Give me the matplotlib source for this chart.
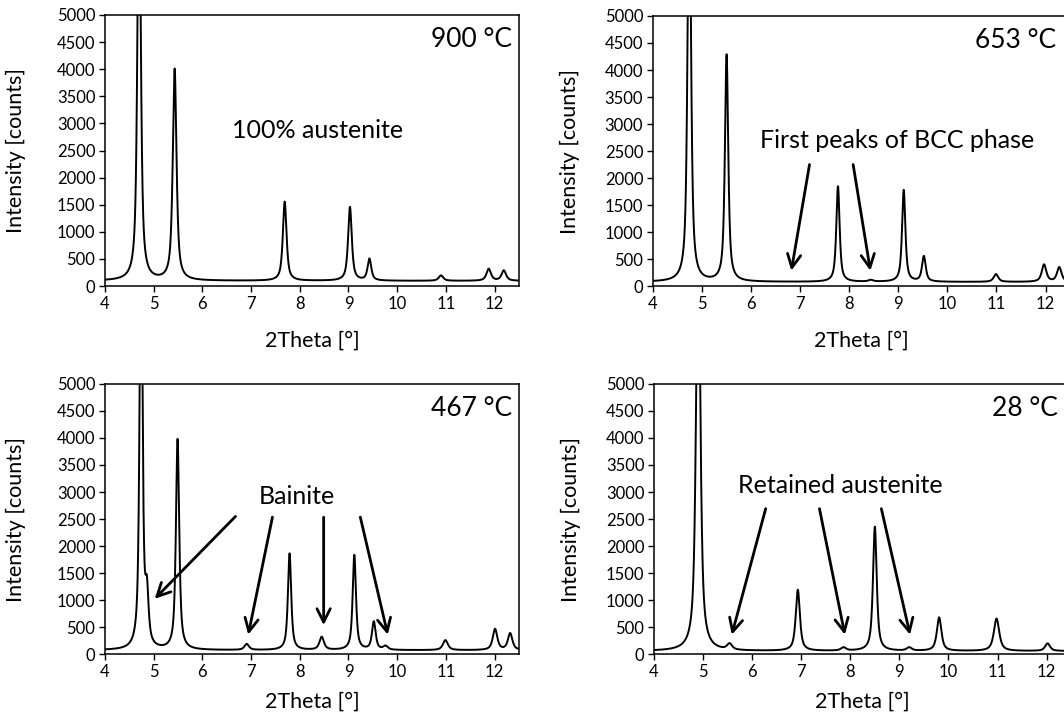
import numpy as np
import matplotlib
matplotlib.use('Agg')
import matplotlib.pyplot as plt

plt.rcParams['font.family'] = ['Lato', 'DejaVu Sans']

# peak tables: position [deg], height [counts], fwhm [deg]
pos_900 = [4.70, 5.43, 7.69, 9.03, 9.43, 10.90, 11.88, 12.19]
height_900 = [8000, 3900, 1460, 1360, 400, 100, 220, 190]
fwhm_900 = [0.08, 0.09, 0.09, 0.09, 0.09, 0.11, 0.11, 0.11]
base_900 = 95

pos_653 = [4.74, 5.50, 7.77, 8.44, 9.11, 9.52, 10.99, 11.97, 12.28]
height_653 = [8000, 4200, 1770, 30, 1700, 470, 145, 320, 270]
fwhm_653 = [0.08, 0.08, 0.08, 0.12, 0.08, 0.09, 0.11, 0.11, 0.11]
base_653 = 75

pos_467 = [4.74, 4.86, 5.49, 6.91, 7.79, 8.45, 9.12, 9.52, 9.76, 10.99, 12.01, 12.32]
height_467 = [8000, 900, 3900, 110, 1790, 240, 1760, 520, 70, 185, 390, 310]
fwhm_467 = [0.07, 0.08, 0.08, 0.11, 0.08, 0.11, 0.08, 0.09, 0.11, 0.12, 0.11, 0.11]
base_467 = 70

pos_28 = [4.90, 5.54, 6.93, 7.86, 8.50, 9.20, 9.81, 10.98, 12.02]
height_28 = [8000, 110, 1130, 60, 2300, 60, 620, 600, 140]
fwhm_28 = [0.10, 0.12, 0.10, 0.12, 0.09, 0.12, 0.11, 0.13, 0.12]
base_28 = 55

temps = ['900 °C', '653 °C', '467 °C', '28 °C']


def pattern(x, pos, height, fwhm, base, eta=0.75):
    y = np.full_like(x, float(base))
    for p, h, w in zip(pos, height, fwhm):
        d = x - p
        lor = (w / 2) ** 2 / (d ** 2 + (w / 2) ** 2)
        gau = np.exp(-4 * np.log(2) * d ** 2 / w ** 2)
        y += h * (eta * lor + (1 - eta) * gau)
    return y


x = np.linspace(4, 12.5, 4000)
curves = [
    pattern(x, pos_900, height_900, fwhm_900, base_900),
    pattern(x, pos_653, height_653, fwhm_653, base_653),
    pattern(x, pos_467, height_467, fwhm_467, base_467),
    pattern(x, pos_28, height_28, fwhm_28, base_28),
]

fig = plt.figure(figsize=(10.64, 7.14), dpi=100)
rects = [
    [0.0987, 0.5994, 0.389, 0.3796],
    [0.6137, 0.5994, 0.392, 0.3782],
    [0.0987, 0.0840, 0.389, 0.3782],
    [0.6147, 0.0840, 0.392, 0.3782],
]
axes = [fig.add_axes(r) for r in rects]
temp_x = [0.983, 0.966, 0.983, 0.968]

for i, ax in enumerate(axes):
    ax.plot(x, curves[i], color='black', lw=1.4)
    ax.set_xlim(4, 12.5)
    ax.set_ylim(0, 5000)
    ax.set_xticks(range(4, 13))
    ax.set_yticks(range(0, 5001, 500))
    ax.tick_params(direction='out', length=4, width=1, labelsize=12, pad=3)
    for s in ['top', 'bottom', 'left', 'right']:
        ax.spines[s].set_linewidth(1.1)
    ax.set_xlabel('2Theta [°]', fontsize=15.5)
    ax.set_ylabel('Intensity [counts]', fontsize=15.5)
    if i < 2:
        ax.xaxis.set_label_coords(0.5, -0.165)
    else:
        ax.xaxis.set_label_coords(0.5, -0.14)
    if i % 2 == 0:
        ax.yaxis.set_label_coords(-0.19, 0.5)
    else:
        ax.yaxis.set_label_coords(-0.175, 0.5)
    ax.text(temp_x[i], 0.955, temps[i], transform=ax.transAxes,
            ha='right', va='top', fontsize=19)

arrow = dict(arrowstyle='->', lw=2, color='black', mutation_scale=24)

axes[0].text(8.37, 2860, '100% austenite', ha='center', va='center', fontsize=18)

axes[1].text(8.98, 2700, 'First peaks of BCC phase', ha='center', va='center', fontsize=18)
axes[1].annotate('', xy=(6.81, 232), xytext=(7.20, 2300), arrowprops=arrow)
axes[1].annotate('', xy=(8.44, 232), xytext=(8.07, 2300), arrowprops=arrow)

axes[2].text(7.94, 2917, 'Bainite', ha='center', va='center', fontsize=18)
axes[2].annotate('', xy=(4.98, 985), xytext=(6.72, 2585), arrowprops=arrow)
axes[2].annotate('', xy=(6.93, 307), xytext=(7.45, 2585), arrowprops=arrow)
axes[2].annotate('', xy=(8.49, 483), xytext=(8.49, 2585), arrowprops=arrow)
axes[2].annotate('', xy=(9.82, 307), xytext=(9.23, 2585), arrowprops=arrow)

axes[3].text(7.80, 3118, 'Retained austenite', ha='center', va='center', fontsize=18)
axes[3].annotate('', xy=(5.57, 307), xytext=(6.29, 2741), arrowprops=arrow)
axes[3].annotate('', xy=(7.90, 307), xytext=(7.36, 2741), arrowprops=arrow)
axes[3].annotate('', xy=(9.23, 307), xytext=(8.62, 2741), arrowprops=arrow)

plt.savefig('out.png', dpi=100)
plt.close()
